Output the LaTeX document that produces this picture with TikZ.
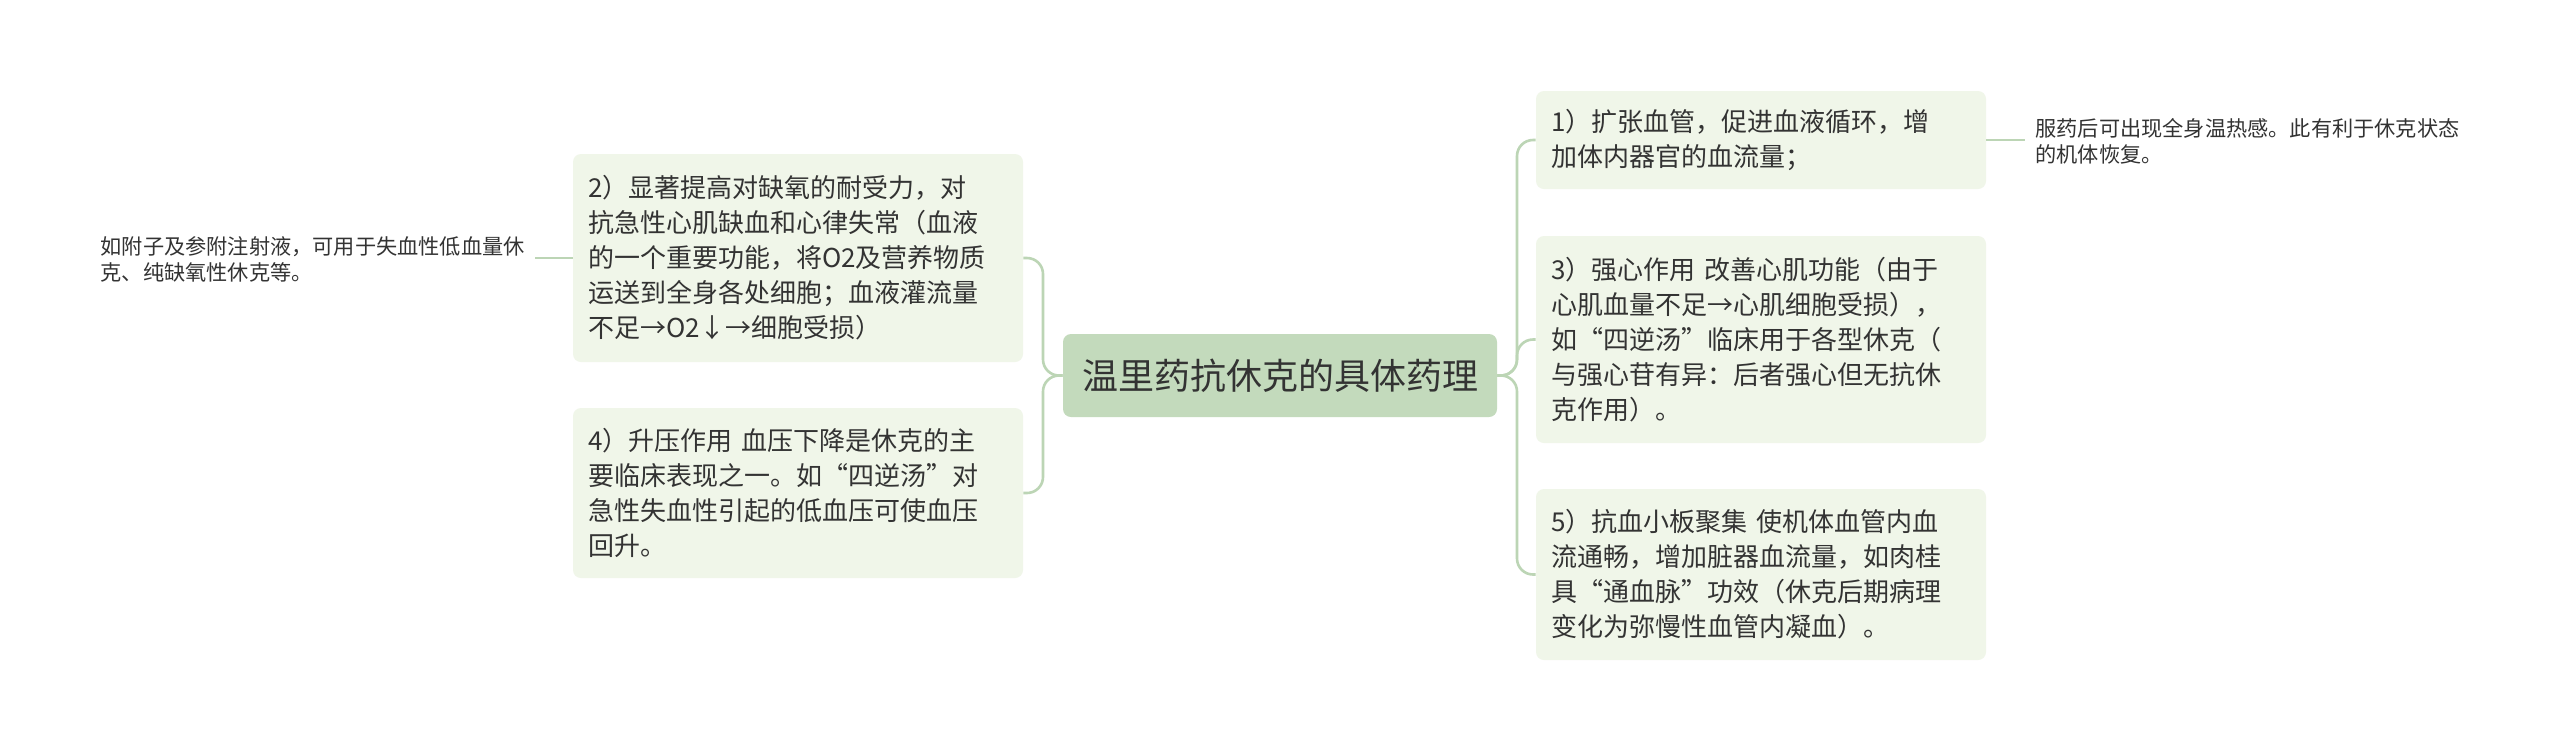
\documentclass[tikz,border=0pt]{standalone}
\usepackage{fontspec}
\setmainfont{Noto Sans CJK SC}
\definecolor{rootfill}{HTML}{C3DABC}
\definecolor{boxfill}{HTML}{F0F6E9}
\definecolor{linkcol}{HTML}{BCD5B5}
\definecolor{inkgray}{HTML}{333333}
\tikzset{
  rootbox/.style={fill=rootfill, rounded corners=4pt, minimum width=217pt, minimum height=41.5pt,
    inner sep=0pt, text=inkgray, font=\fontsize{18}{22}\selectfont},
  subbox/.style={fill=boxfill, rounded corners=4pt, text width=210pt, inner xsep=7.5pt, inner ysep=0pt,
    align=left, text=inkgray, font=\fontsize{13}{17.5}\selectfont},
  leafbox/.style={inner xsep=5pt, inner ysep=0pt, align=left, text=inkgray,
    font=\fontsize{10.6}{13}\selectfont},
  link/.style={draw=linkcol, line width=1.3pt, rounded corners=8pt}
}
\begin{document}
\begin{tikzpicture}[x=0.5pt,y=-0.5pt]
\useasboundingbox[fill=white] (0,0) rectangle (2560,752);
% the central topic
\node[rootbox] (root) at (1280,375.5) {温里药抗休克的具体药理};
% left branches
\node[subbox, minimum height=104pt] (b2) at (798,258) {2）显著提高对缺氧的耐受力，对\\抗急性心肌缺血和心律失常（血液\\的一个重要功能，将O2及营养物质\\运送到全身各处细胞；血液灌流量\\不足→O2↓→细胞受损）};
\node[subbox, minimum height=85pt] (b4) at (798,493) {4）升压作用 血压下降是休克的主\\要临床表现之一。如“四逆汤”对\\急性失血性引起的低血压可使血压\\回升。};
\node[leafbox, anchor=east] (leafa) at (535,259) {如附子及参附注射液，可用于失血性低血量休\\克、纯缺氧性休克等。};
% right branches
\node[subbox, minimum height=49pt] (b1) at (1761,140) {1）扩张血管，促进血液循环，增\\加体内器官的血流量；};
\node[subbox, minimum height=103.5pt] (b3) at (1761,339.5) {3）强心作用 改善心肌功能（由于\\心肌血量不足→心肌细胞受损），\\如“四逆汤”临床用于各型休克（\\与强心苷有异：后者强心但无抗休\\克作用）。};
\node[subbox, minimum height=85.5pt] (b5) at (1761,574.5) {5）抗血小板聚集 使机体血管内血\\流通畅，增加脏器血流量，如肉桂\\具“通血脉”功效（休克后期病理\\变化为弥慢性血管内凝血）。};
\node[leafbox, anchor=west] (leafb) at (2025,141) {服药后可出现全身温热感。此有利于休克状态\\的机体恢复。};
% trunks
\coordinate (ltrunk) at (1043,375.5);
\coordinate (rtrunk) at (1517,375.5);
% connectors
\draw[link] (root.west) -- (ltrunk) |- (b2.east);
\draw[link] (root.west) -- (ltrunk) |- (b4.east);
\draw[link] (root.east) -- (rtrunk) |- (b1.west);
\draw[link] (root.east) -- (rtrunk) |- (b3.west);
\draw[link] (root.east) -- (rtrunk) |- (b5.west);
\draw[link] (b2.west) -- (b2.west -| leafa.east);
\draw[link] (b1.east) -- (b1.east -| leafb.west);
\end{tikzpicture}
\end{document}
